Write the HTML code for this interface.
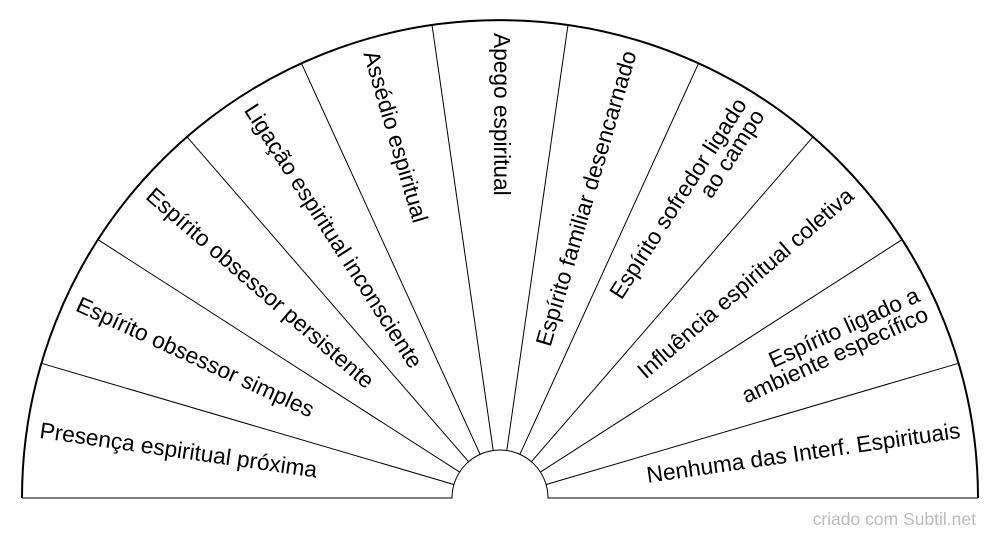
<!DOCTYPE html>
<html><head><meta charset="utf-8"><style>
html,body{margin:0;padding:0;background:#fff;width:1000px;height:540px;overflow:hidden}
text{font-family:"Liberation Sans",Arial,sans-serif;font-size:22.7px;fill:#000}
</style></head><body>
<svg width="1000" height="540" viewBox="0 0 1000 540" xmlns="http://www.w3.org/2000/svg">
<g stroke="#000" stroke-width="1" fill="none">
<line x1="546.1" y1="484.5" x2="958.6" y2="363.3"/>
<line x1="540.4" y1="472.1" x2="902.1" y2="239.6"/>
<line x1="531.4" y1="461.7" x2="813" y2="136.8"/>
<line x1="519.9" y1="454.3" x2="698.6" y2="63.2"/>
<line x1="506.8" y1="450.5" x2="568" y2="24.9"/>
<line x1="493.2" y1="450.5" x2="432" y2="24.9"/>
<line x1="480.1" y1="454.3" x2="301.4" y2="63.2"/>
<line x1="468.6" y1="461.7" x2="187" y2="136.8"/>
<line x1="459.6" y1="472.1" x2="97.9" y2="239.6"/>
<line x1="453.9" y1="484.5" x2="41.4" y2="363.3"/>
<path d="M22,498 L452,498 A48,48 0 0 1 548,498 L978,498"/>
<path d="M22,498 A478,478 0 0 1 978,498" stroke-width="2"/>
</g>
<g dominant-baseline="middle">
<text transform="translate(500,498) rotate(-171.82) translate(465,0) rotate(180)" text-anchor="start">Presença espiritual próxima</text>
<text transform="translate(500,498) rotate(-155.45) translate(465,0) rotate(180)" text-anchor="start">Espírito obsessor simples</text>
<text transform="translate(500,498) rotate(-139.09) translate(465,0) rotate(180)" text-anchor="start">Espírito obsessor persistente</text>
<text transform="translate(500,498) rotate(-122.73) translate(465,0) rotate(180)" text-anchor="start">Ligação espiritual inconsciente</text>
<text transform="translate(500,498) rotate(-106.36) translate(465,0) rotate(180)" text-anchor="start">Assédio espiritual</text>
<text transform="translate(500,498) rotate(-90) translate(465,0) rotate(180)" text-anchor="start">Apego espiritual</text>
<text transform="translate(500,498) rotate(-73.64) translate(465,0)" text-anchor="end">Espírito familiar desencarnado</text>
<text transform="translate(500,498) rotate(-57.27) translate(465,0)" text-anchor="end"><tspan x="0" y="-10.5">Espírito sofredor ligado</tspan><tspan x="0" y="10.5">ao campo</tspan></text>
<text transform="translate(500,498) rotate(-40.91) translate(465,0)" text-anchor="end">Influência espiritual coletiva</text>
<text transform="translate(500,498) rotate(-24.55) translate(465,0)" text-anchor="end"><tspan x="0" y="-10.5">Espírito ligado a</tspan><tspan x="0" y="10.5">ambiente específico</tspan></text>
<text transform="translate(500,498) rotate(-8.18) translate(465,0)" text-anchor="end">Nenhuma das Interf. Espirituais</text>
</g>
<text x="976" y="525" text-anchor="end" style="font-size:17.5px;fill:#bbb">criado com Subtil.net</text>
</svg>
</body></html>
